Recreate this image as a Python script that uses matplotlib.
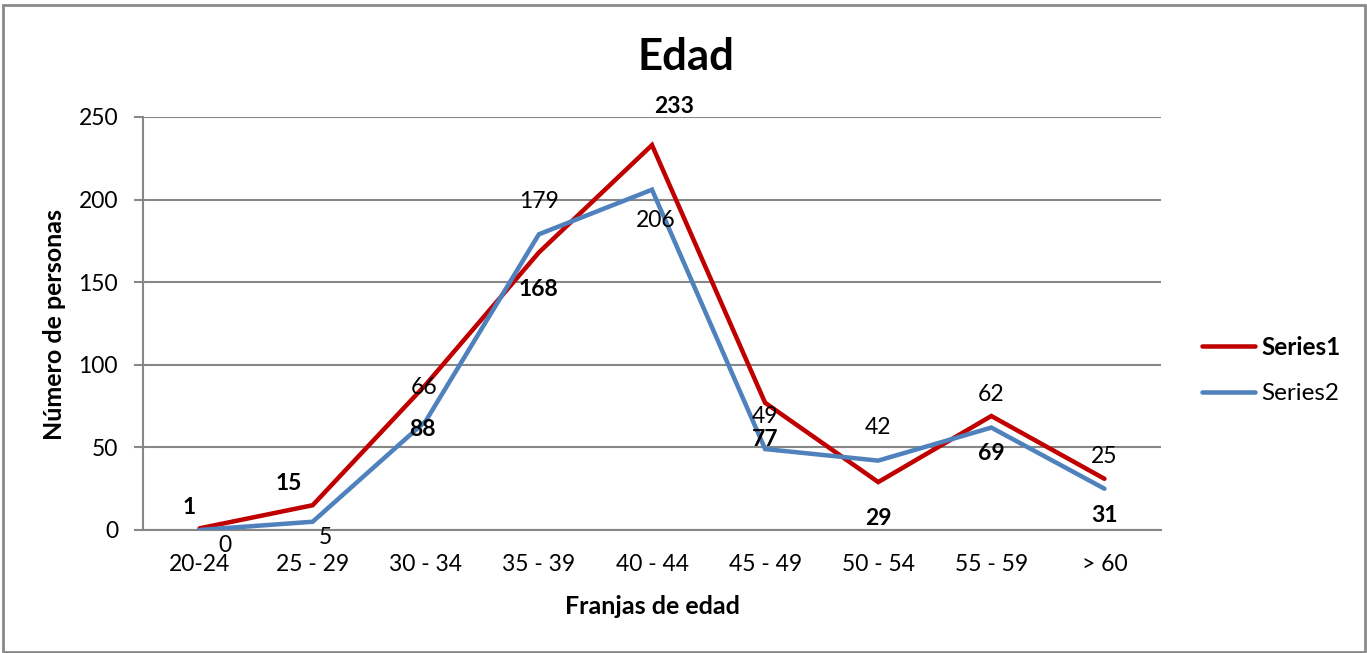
import matplotlib
matplotlib.use("Agg")
import matplotlib.pyplot as plt
from matplotlib.patches import Rectangle

categories = ["20-24", "25 - 29", "30 - 34", "35 - 39", "40 - 44", "45 - 49", "50 - 54", "55 - 59", "> 60"]
series1 = [1, 15, 88, 168, 233, 77, 29, 69, 31]
series2 = [0, 5, 66, 179, 206, 49, 42, 62, 25]
yticks = [0, 50, 100, 150, 200, 250]

# label offsets in pixels (dx, dy up)
off1 = [(-10, 21), (-24, 22), (-3, -45), (0, -37), (22, 39), (0, -37), (0, -36), (0, -37), (0, -37)]
off2 = [(25, -16), (13, -16), (-2, 33), (0, 33), (4, -31), (0, 33), (0, 33), (0, 33), (0, 32)]

W, H = 1367, 653
DPI = 100
PX = 72.0 / DPI

plt.rcParams['font.family'] = ['Lato', 'DejaVu Sans']

fig = plt.figure(figsize=(W / DPI, H / DPI), dpi=DPI)
fig.patch.set_facecolor('white')

def fx(x):
    return x / W

def fy(y):
    return 1 - y / H

left, right, top, bottom = 143, 1161, 117, 530
ax = fig.add_axes([fx(left), fy(bottom), fx(right) - fx(left), fy(top) - fy(bottom)])

red = '#C00000'
blue = '#4F81BD'
grid = '#878787'
x = list(range(len(categories)))

l1, = ax.plot(x, series1, color=red, lw=4.5 * PX, solid_capstyle='round', solid_joinstyle='miter', label='Series1', zorder=3)
l2, = ax.plot(x, series2, color=blue, lw=4.5 * PX, solid_capstyle='round', solid_joinstyle='miter', label='Series2', zorder=4)

ax.set_xlim(-0.5, len(categories) - 0.5)
ax.set_ylim(0, 250)
ax.set_yticks(yticks)
ax.set_yticklabels([str(t) for t in yticks])
ax.set_xticks(x)
ax.set_xticklabels(categories)

ax.grid(axis='y', color=grid, lw=1.5)
ax.set_axisbelow(True)
for s in ['top', 'right']:
    ax.spines[s].set_visible(False)
ax.spines['left'].set_color(grid)
ax.spines['left'].set_linewidth(1.5)
ax.spines['bottom'].set_color(grid)
ax.spines['bottom'].set_linewidth(1.5)

FS = 16.5
ax.tick_params(axis='y', length=9 * PX, width=1.5, color=grid, labelsize=FS, pad=16 * PX)
ax.tick_params(axis='x', length=0, labelsize=FS, pad=24 * PX)

for i, (v, (dx, dy)) in enumerate(zip(series1, off1)):
    ax.annotate(str(v), xy=(i, v), xytext=(dx * PX, dy * PX), textcoords='offset points',
                ha='center', va='center', fontsize=FS, fontweight='bold', color='black', zorder=5)
for i, (v, (dx, dy)) in enumerate(zip(series2, off2)):
    ax.annotate(str(v), xy=(i, v), xytext=(dx * PX, dy * PX), textcoords='offset points',
                ha='center', va='center', fontsize=FS, color='black', zorder=5)

fig.text(fx(686), fy(57), 'Edad', ha='center', va='center', fontsize=31.5, fontweight='bold')
fig.text(fx(652), fy(606), 'Franjas de edad', ha='center', va='center', fontsize=18, fontweight='bold')
fig.text(fx(55), fy(325), 'Número de personas', ha='center', va='center', fontsize=18,
         fontweight='bold', rotation=90)

leg = fig.legend(handles=[l1, l2], loc='center left', bbox_to_anchor=(fx(1202), fy(370)),
                 frameon=False, fontsize=17.5, handlelength=2.2, handletextpad=0.25,
                 labelspacing=1.0, borderpad=0, borderaxespad=0)
leg.get_texts()[0].set_fontweight('bold')

fig.patches.append(Rectangle((fx(3), fy(652)), fx(1365) - fx(3), fy(5) - fy(652),
                             transform=fig.transFigure, fill=False, edgecolor='#8a8a8a', lw=2))

fig.savefig('out.png', dpi=DPI, facecolor='white')
